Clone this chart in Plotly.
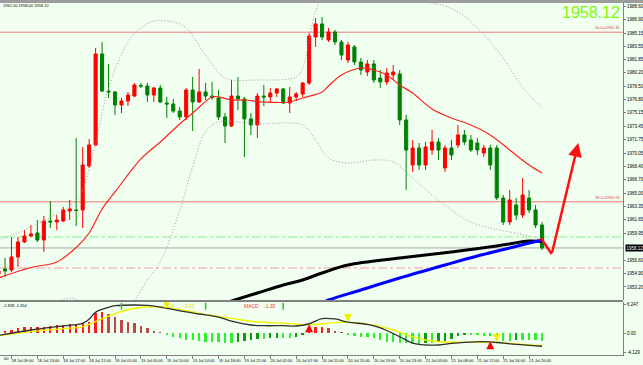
import plotly.graph_objects as go

W, H = 643, 365
PLOT_R = 623  # right edge of plotting area in px

# ---------------- DATA ----------------
bar_idx = list(range(-2, 83))
open_ = [1954.84, 1955.47, 1955.34, 1956.98, 1958.87, 1959.62, 1960.00, 1959.12, 1961.51, 1961.39,
         1961.51, 1962.77, 1962.90, 1962.90, 1968.44, 1971.09, 1982.56, 1977.89, 1977.77, 1976.13,
         1976.63, 1977.26, 1978.59, 1978.52, 1977.39, 1978.27, 1976.38, 1976.26, 1975.37, 1974.62,
         1978.02, 1976.51, 1977.77, 1977.26, 1977.01, 1974.62, 1973.48, 1977.26, 1976.89, 1974.37,
         1973.61, 1977.26, 1977.14, 1977.64, 1978.15, 1976.38, 1977.14, 1977.52, 1978.90, 1984.70,
         1986.34, 1984.32, 1985.33, 1984.07, 1981.80, 1983.44, 1981.55, 1980.29, 1981.30, 1979.53,
         1979.03, 1979.91, 1980.04, 1974.24, 1968.57, 1970.71, 1968.57, 1970.46, 1971.47, 1968.19,
         1970.71, 1971.09, 1972.35, 1971.72, 1971.34, 1970.08, 1970.71, 1970.71, 1964.41, 1961.39,
         1963.53, 1962.27, 1964.41, 1962.90, 1961.01]
high_ = [1955.59, 1956.85, 1959.50, 1959.50, 1960.38, 1961.01, 1961.64, 1962.14, 1964.03, 1962.27,
         1963.28, 1964.16, 1971.97, 1970.84, 1971.85, 1983.31, 1984.07, 1981.30, 1977.90, 1977.01,
         1977.77, 1978.90, 1978.90, 1978.90, 1978.40, 1978.65, 1977.14, 1976.89, 1975.88, 1978.27,
         1979.66, 1980.67, 1978.90, 1979.03, 1978.02, 1975.12, 1979.28, 1979.66, 1977.14, 1975.12,
         1977.64, 1978.65, 1978.27, 1978.27, 1978.27, 1978.40, 1977.77, 1979.03, 1985.20, 1987.09,
         1987.22, 1985.83, 1985.58, 1984.32, 1984.07, 1983.69, 1982.05, 1981.80, 1981.80, 1980.54,
         1980.79, 1981.17, 1980.54, 1974.87, 1971.72, 1971.34, 1971.47, 1972.98, 1971.97, 1971.09,
         1971.72, 1973.61, 1972.98, 1972.35, 1971.97, 1971.09, 1971.09, 1971.09, 1964.79, 1965.42,
         1964.41, 1966.93, 1965.42, 1963.53, 1961.39]
low_ = [1954.58, 1954.46, 1955.09, 1955.72, 1958.74, 1959.50, 1958.87, 1957.61, 1960.63, 1960.38,
        1961.39, 1961.64, 1960.88, 1960.63, 1968.19, 1970.96, 1977.77, 1977.01, 1974.87, 1975.12,
        1976.00, 1977.14, 1978.27, 1976.51, 1976.51, 1976.38, 1974.49, 1975.12, 1974.24, 1974.24,
        1972.85, 1976.38, 1976.76, 1976.76, 1974.24, 1971.34, 1973.36, 1975.50, 1969.58, 1972.35,
        1971.97, 1976.00, 1976.51, 1977.14, 1976.26, 1975.12, 1976.63, 1977.14, 1978.65, 1983.44,
        1984.32, 1984.07, 1983.69, 1981.80, 1981.42, 1981.17, 1979.91, 1979.78, 1978.90, 1978.27,
        1978.65, 1979.28, 1973.61, 1965.42, 1967.69, 1967.94, 1967.94, 1969.83, 1969.20, 1967.69,
        1969.20, 1970.71, 1971.09, 1970.21, 1969.83, 1969.58, 1967.94, 1964.16, 1961.01, 1961.01,
        1961.64, 1961.89, 1962.52, 1960.63, 1957.86]
close_ = [1955.21, 1955.21, 1956.98, 1958.87, 1959.62, 1959.88, 1959.12, 1961.51, 1961.39, 1961.64,
          1962.90, 1963.03, 1962.84, 1968.57, 1971.09, 1982.56, 1977.89, 1977.77, 1976.13, 1976.63,
          1977.39, 1978.65, 1978.52, 1977.39, 1978.27, 1976.51, 1976.26, 1975.37, 1974.62, 1978.02,
          1976.51, 1977.77, 1977.26, 1977.07, 1974.62, 1973.48, 1977.26, 1976.89, 1974.37, 1973.61,
          1977.26, 1977.14, 1977.64, 1978.15, 1976.38, 1977.14, 1977.52, 1978.90, 1984.82, 1986.34,
          1984.70, 1985.33, 1984.07, 1982.43, 1983.69, 1981.55, 1980.54, 1981.30, 1979.28, 1979.03,
          1980.16, 1980.29, 1974.24, 1970.46, 1970.71, 1968.57, 1970.84, 1971.47, 1970.46, 1970.71,
          1969.83, 1972.35, 1971.47, 1970.46, 1970.46, 1970.71, 1968.57, 1964.41, 1961.39, 1964.16,
          1962.27, 1964.79, 1962.90, 1961.01, 1958.12]

# red moving average
ma_idx = [-2, 3, 7, 10, 12, 14, 16, 20, 23, 26, 28, 31, 32, 34, 36, 39, 43, 45, 48, 49, 51, 54,
          56, 58, 60, 62, 65, 68, 71, 74, 77, 80, 82]
ma_val = [1954.33, 1955.65, 1956.35, 1958.17, 1960.00, 1963.03, 1965.17, 1969.33, 1971.47, 1973.74,
          1975.12, 1977.14, 1977.14, 1976.76, 1976.76, 1976.51, 1976.51, 1977.01, 1977.77, 1978.52,
          1979.91, 1980.79, 1980.54, 1979.91, 1978.65, 1977.64, 1975.63, 1974.49, 1973.61, 1972.35,
          1970.46, 1968.57, 1967.56]
# black long moving average
ma_black_idx = [33, 38, 42, 45, 48, 52, 60, 68, 75, 80, 82]
ma_black_val = [1951.18, 1952.44, 1953.45, 1954.08, 1954.96, 1955.97, 1956.85, 1957.61, 1958.36,
                1958.99, 1958.93]
# blue moving average
ma_blue_idx = [48, 49, 54, 60, 67, 72, 77, 80, 82]
ma_blue_val = [1951.18, 1951.56, 1952.82, 1954.33, 1955.97, 1957.10, 1958.11, 1958.74, 1959.12]
# bollinger bands
bb_up_idx = [-2, 2, 10, 11, 13, 15, 18, 20, 22, 25, 27, 30, 33, 38, 44, 45, 46, 47, 49, 53, 57,
             61, 64, 67, 70, 72, 74, 76, 78, 80, 82]
bb_up_val = [1959.12, 1960.38, 1964.03, 1965.42, 1971.34, 1978.27, 1984.07, 1985.83, 1986.71,
             1986.59, 1985.83, 1982.43, 1979.53, 1979.28, 1979.66, 1980.79, 1984.32, 1987.85,
             1991.25, 1992.51, 1990.87, 1989.61, 1989.11, 1988.60, 1987.34, 1985.83, 1984.07,
             1982.05, 1979.53, 1977.39, 1975.75]
bb_lo_idx = [-2, 4, 9, 12, 17, 19, 21, 23, 26, 28, 30, 32, 38, 45, 47, 49, 52, 56, 59, 62, 65,
             68, 71, 74, 77, 80, 82]
bb_lo_val = [1947.78, 1950.05, 1951.81, 1950.93, 1950.05, 1951.56, 1954.08, 1956.35, 1962.90,
             1968.32, 1972.73, 1973.99, 1973.74, 1973.61, 1971.72, 1969.45, 1968.82, 1969.20,
             1968.95, 1966.93, 1964.79, 1962.90, 1961.39, 1960.63, 1960.13, 1959.62, 1959.12]

# horizontal levels
fib_levels = [1985.30, 1963.93]
fib_labels = ["50.0=1985.30", "38.2=1963.93"]
green_level = 1959.50
red_level = 1955.59
bid_price = 1958.12
ohlc_text = "1961.50 1958.00 1958.12"

# drawn arrow
arrow_idx = [81.8, 83.5, 87.6]
arrow_price = [1959.37, 1957.36, 1971.34]

# price axis labels
price_ticks = [1988.60, 1986.90, 1985.15, 1983.55, 1981.85, 1980.20, 1978.50, 1976.80, 1975.15,
               1973.45, 1971.75, 1970.05, 1968.40, 1966.70, 1965.00, 1963.35, 1961.65, 1959.95,
               1956.60, 1954.90, 1953.20, 1951.55]
macd_ticks = [6.247, 0.0, -4.129]
macd_tick_text = ["6.247", "0.00", "-4.129"]

# time axis
time_tick_idx = list(range(0, 81, 4))
time_tick_text = ["18 Jul 09:00", "18 Jul 13:00", "18 Jul 17:00", "18 Jul 21:00", "19 Jul 01:00",
                  "19 Jul 05:00", "19 Jul 10:00", "19 Jul 14:00", "19 Jul 18:00", "19 Jul 22:00",
                  "20 Jul 02:00", "20 Jul 07:00", "20 Jul 11:00", "20 Jul 15:00", "20 Jul 19:00",
                  "20 Jul 23:00", "21 Jul 03:00", "21 Jul 08:00", "21 Jul 12:00", "21 Jul 16:00",
                  "21 Jul 20:00"]
time_prev_label = ":00"

# MACD
hist_idx = list(range(-1, 83))
hist_val = [0.29, 0.65, 1.01, 1.37, 1.37, 1.37, 1.37, 1.51, 1.73, 1.73, 1.95, 1.95, 2.09, 2.45,
            4.25, 4.47, 4.11, 3.53, 2.81, 2.45, 2.09, 1.51, 1.01, 0.50, 0.07,
            -0.43, -0.80, -1.15, -1.51, -1.51, -1.73, -1.88, -1.88, -2.01, -2.23, -2.23, -1.88,
            -1.73, -1.51, -1.30, -1.30, -1.15, -1.01, -1.01, -1.01, -0.80, -0.43,
            1.37, 1.37, 1.37, 1.01, 0.43, 0.07,
            -0.36, -0.58, -0.80, -0.80, -1.01, -1.51, -1.88, -2.01, -2.09, -2.23, -2.38, -2.38,
            -2.23, -2.23, -1.88, -1.66, -1.30, -0.65, -0.43, -0.43, -0.43, -0.58, -0.58, -1.51,
            -1.73, -1.73, -1.51, -1.51, -1.51, -1.51, -1.73]
dif_idx = [-2, 3, 8, 11, 12, 13, 15, 16, 19, 21, 24, 27, 29, 32, 34, 37, 39, 42, 44, 46, 48, 50,
           52, 55, 57, 60, 62, 64, 66, 68, 70, 73, 75, 78, 82]
dif_val = [-0.50, 0.65, 1.55, 2.10, 3.00, 4.50, 5.55, 5.90, 6.05, 5.95, 5.33, 4.55, 4.11, 3.45,
           2.55, 1.73, 1.58, 1.58, 1.51, 2.00, 3.10, 3.03, 2.35, 1.85, 1.10, -0.80, -2.20, -2.59,
           -2.59, -2.25, -2.01, -1.85, -2.05, -2.45, -2.86]
dea_idx = [-2, 3, 8, 11, 14, 16, 19, 22, 24, 27, 29, 32, 34, 37, 39, 42, 45, 46, 48, 50, 52, 56,
           59, 62, 64, 66, 69, 73, 75, 78, 82]
dea_val = [-0.60, 0.29, 0.95, 1.37, 3.10, 4.20, 5.35, 5.69, 5.48, 4.80, 4.25, 3.60, 3.17, 2.55,
           2.31, 2.10, 1.85, 1.75, 2.00, 2.25, 2.31, 1.70, 0.65, -0.85, -1.50, -1.88, -2.01,
           -2.00, -1.97, -2.35, -2.70]
up_sig_idx = [46, 74]
up_sig_val = [1.9, -1.8]
down_sig_idx = [24, 52, 75]
down_sig_val = [5.4, 2.4, -1.9]
mark_idx = [17, 30, 42]
mark_val = [5.8, 5.8, 5.8]
macd_head = "-2.858 -1.354"
dea_text, dea_num = "DEA", "-2.55"
macd_text, macd_num = "MACD", "-1.35"

# ---------------- GEOMETRY ----------------
BAR0_PX, BAR_STEP = 11.5, 6.47
x_range = [-BAR0_PX / BAR_STEP, (PLOT_R - BAR0_PX) / BAR_STEP]
P_TOP_PX, P_BOT_PX = 3, 300
M_TOP_PX, M_BOT_PX = 302, 355
price_range = [1951.56, 1988.98]
macd_range = [-4.756, 6.701]


def py(px):
    return 1 - px / H


FONT = "Liberation Sans, Arial, sans-serif"
BG = "#f0fff0"
DOTS = "1px,2px"

fig = go.Figure()

# Bollinger bands
fig.add_trace(go.Scatter(x=bb_up_idx, y=bb_up_val, mode="lines", line=dict(color="#9a9a9a", width=1, dash=DOTS, shape="spline"),
                         xaxis="x", yaxis="y", hoverinfo="skip"))
fig.add_trace(go.Scatter(x=bb_lo_idx, y=bb_lo_val, mode="lines", line=dict(color="#9a9a9a", width=1, dash=DOTS, shape="spline"),
                         xaxis="x", yaxis="y", hoverinfo="skip"))
# long MAs
fig.add_trace(go.Scatter(x=ma_black_idx, y=ma_black_val, mode="lines", line=dict(color="#000000", width=3, shape="spline"),
                         xaxis="x", yaxis="y", hoverinfo="skip"))
fig.add_trace(go.Scatter(x=ma_blue_idx, y=ma_blue_val, mode="lines", line=dict(color="#0000ff", width=3, shape="spline"),
                         xaxis="x", yaxis="y", hoverinfo="skip"))
# candles
fig.add_trace(go.Candlestick(x=bar_idx, open=open_, high=high_, low=low_, close=close_,
                             increasing=dict(line=dict(color="#ff0000", width=1), fillcolor="#ff0000"),
                             decreasing=dict(line=dict(color="#008000", width=1), fillcolor="#008000"),
                             whiskerwidth=0, xaxis="x", yaxis="y", hoverinfo="skip"))
# red MA
fig.add_trace(go.Scatter(x=ma_idx, y=ma_val, mode="lines", line=dict(color="#ff2020", width=1.2, shape="spline"),
                         xaxis="x", yaxis="y", hoverinfo="skip"))
# drawn arrow (first leg)
fig.add_trace(go.Scatter(x=arrow_idx[:2], y=arrow_price[:2], mode="lines", line=dict(color="#ff1010", width=2.5),
                         xaxis="x", yaxis="y", hoverinfo="skip"))

# MACD histogram colours
hist_colors = []
for k, v in enumerate(hist_val):
    prev = hist_val[k - 1] if k > 0 else 0
    growing = abs(v) >= abs(prev) or (v > 0) != (prev > 0)
    if v >= 0:
        hist_colors.append("#ff1a1a" if growing else "#b84a4a")
    else:
        hist_colors.append("#2ef02e" if growing else "#0e9a0e")
fig.add_trace(go.Bar(x=hist_idx, y=hist_val, width=0.36, marker=dict(color=hist_colors, line=dict(width=0)),
                     xaxis="x", yaxis="y2", hoverinfo="skip"))
fig.add_trace(go.Scatter(x=dea_idx, y=dea_val, mode="lines", line=dict(color="#f2f200", width=1.4, shape="spline"),
                         xaxis="x", yaxis="y2", hoverinfo="skip"))
fig.add_trace(go.Scatter(x=dif_idx, y=dif_val, mode="lines", line=dict(color="#303030", width=1.3, shape="spline"),
                         xaxis="x", yaxis="y2", hoverinfo="skip"))
fig.add_trace(go.Scatter(x=up_sig_idx, y=up_sig_val, mode="markers",
                         marker=dict(symbol="arrow-up", size=8, color="#ff0000"), xaxis="x", yaxis="y2", hoverinfo="skip"))
fig.add_trace(go.Scatter(x=down_sig_idx, y=down_sig_val, mode="markers",
                         marker=dict(symbol="arrow-down", size=8, color="#f0f000"), xaxis="x", yaxis="y2", hoverinfo="skip"))
fig.add_trace(go.Scatter(x=mark_idx, y=mark_val, mode="markers",
                         marker=dict(symbol="line-ns", size=5, line=dict(color="#22cc22", width=1.5)),
                         xaxis="x", yaxis="y2", hoverinfo="skip"))

shapes = []
# top border strip
shapes.append(dict(type="rect", xref="paper", yref="paper", x0=0, x1=1, y0=py(3), y1=1,
                   fillcolor="#9c9c9c", line=dict(width=0), layer="above"))
# panel separator
shapes.append(dict(type="line", xref="paper", yref="paper", x0=0, x1=PLOT_R / W, y0=py(301), y1=py(301),
                   line=dict(color="#808080", width=2)))
for lv in fib_levels:
    shapes.append(dict(type="line", xref="x domain", yref="y", x0=0, x1=1, y0=lv, y1=lv,
                       line=dict(color="#f07a7a", width=1), layer="below"))
shapes.append(dict(type="line", xref="x domain", yref="y", x0=0, x1=1, y0=green_level, y1=green_level,
                   line=dict(color="#90e890", width=1, dash="dashdot"), layer="below"))
shapes.append(dict(type="line", xref="x domain", yref="y", x0=0, x1=1, y0=red_level, y1=red_level,
                   line=dict(color="#f4a0a0", width=1, dash="dashdot"), layer="below"))
shapes.append(dict(type="line", xref="x domain", yref="y", x0=0, x1=1, y0=bid_price, y1=bid_price,
                   line=dict(color="#a8a8a8", width=1), layer="below"))

annotations = []
for lv, lab in zip(fib_levels, fib_labels):
    annotations.append(dict(xref="paper", yref="y", x=(PLOT_R - 1) / W, y=lv, xanchor="right", yanchor="bottom",
                            text=lab, showarrow=False, font=dict(family=FONT, size=4, color="#e04040")))
annotations.append(dict(xref="paper", yref="y", x=(PLOT_R + 2) / W, y=bid_price, xanchor="left", yanchor="middle",
                        text=f"{bid_price:.2f}", showarrow=False, bgcolor="#000000", borderpad=0.5,
                        font=dict(family=FONT, size=4.5, color="#ffffff")))
annotations.append(dict(xref="paper", yref="paper", x=(PLOT_R - 1) / W, y=py(13), xanchor="right", yanchor="middle",
                        text=f"{bid_price:.2f}", showarrow=False,
                        font=dict(family="Liberation Sans Narrow, Liberation Sans, Arial", size=16, color="#7cfc00")))
annotations.append(dict(xref="paper", yref="paper", x=1 / W, y=py(5.5), xanchor="left", yanchor="middle",
                        text=ohlc_text, showarrow=False, font=dict(family=FONT, size=4, color="#000000")))
annotations.append(dict(xref="paper", yref="paper", x=1 / W, y=py(305.5), xanchor="left", yanchor="middle",
                        text=macd_head, showarrow=False, font=dict(family=FONT, size=4, color="#000000")))
annotations.append(dict(xref="paper", yref="paper", x=162 / W, y=py(305.5), xanchor="left", yanchor="middle",
                        text=dea_text, showarrow=False, font=dict(family=FONT, size=5, color="#e8e800")))
annotations.append(dict(xref="paper", yref="paper", x=181 / W, y=py(305.5), xanchor="left", yanchor="middle",
                        text=dea_num, showarrow=False, font=dict(family=FONT, size=5, color="#e8e800")))
annotations.append(dict(xref="paper", yref="paper", x=242 / W, y=py(305.5), xanchor="left", yanchor="middle",
                        text=macd_text, showarrow=False, font=dict(family=FONT, size=5, color="#ff3030")))
annotations.append(dict(xref="paper", yref="paper", x=262 / W, y=py(305.5), xanchor="left", yanchor="middle",
                        text=macd_num, showarrow=False, font=dict(family=FONT, size=5, color="#ff3030")))
annotations.append(dict(xref="paper", yref="paper", x=0.5 / W, y=py(358.5), xanchor="left", yanchor="middle",
                        text=time_prev_label, showarrow=False, font=dict(family=FONT, size=4, color="#000000")))
# drawn arrow (second leg with head)
annotations.append(dict(xref="x", yref="y", axref="x", ayref="y", x=arrow_idx[2], y=arrow_price[2],
                        ax=arrow_idx[1], ay=arrow_price[1], text="", showarrow=True, arrowhead=2,
                        arrowsize=1.1, arrowwidth=2.5, arrowcolor="#ff1010"))

axis_common = dict(showgrid=False, zeroline=False, showline=True, linecolor="#808080", linewidth=1,
                   ticks="outside", tickcolor="#808080", fixedrange=True)

fig.update_layout(
    width=W, height=H, margin=dict(l=0, r=0, t=0, b=0),
    paper_bgcolor=BG, plot_bgcolor=BG, showlegend=False, bargap=0, boxgap=0.32,
    shapes=shapes, annotations=annotations,
    xaxis=dict(domain=[0, PLOT_R / W], range=x_range, anchor="y2", tickmode="array",
               tickvals=time_tick_idx, ticktext=time_tick_text, ticklen=3, ticklabelshift=11,
               ticklabelstandoff=-2,
               tickfont=dict(family=FONT, size=4, color="#000000"),
               rangeslider=dict(visible=False), **axis_common),
    yaxis=dict(domain=[py(P_BOT_PX), py(P_TOP_PX)], range=price_range, side="right", anchor="x",
               tickmode="array", tickvals=price_ticks, ticktext=[f"{v:.2f}" for v in price_ticks],
               ticklen=2, tickfont=dict(family=FONT, size=4.5, color="#000000"), **axis_common),
    yaxis2=dict(domain=[py(M_BOT_PX), py(M_TOP_PX)], range=macd_range, side="right", anchor="x",
                tickmode="array", tickvals=macd_ticks, ticktext=macd_tick_text,
                ticklen=2, tickfont=dict(family=FONT, size=4.5, color="#000000"), **axis_common),
)

fig.write_html("out.html")
